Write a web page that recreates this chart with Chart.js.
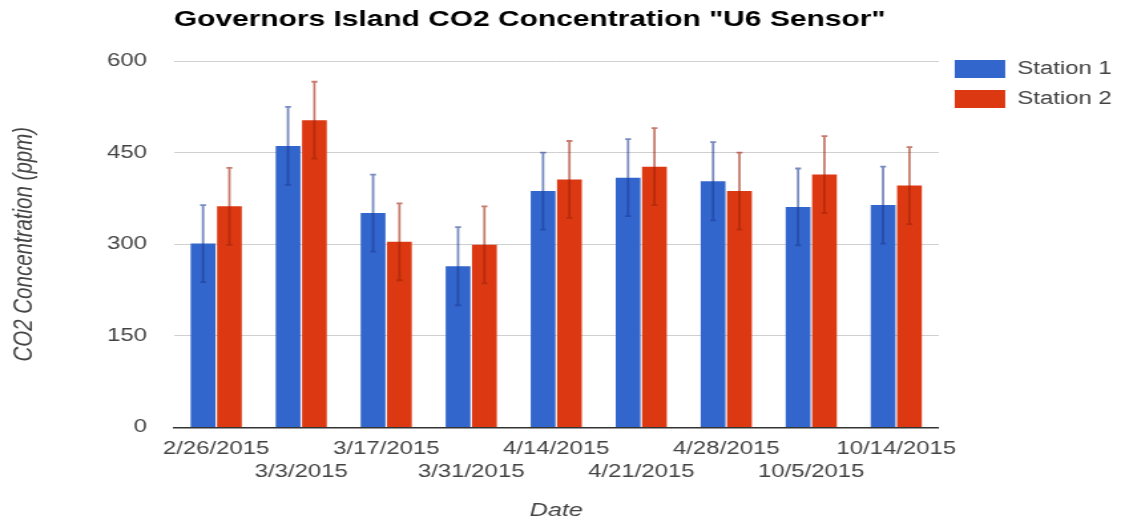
<!DOCTYPE html>
<html lang="en">
<head>
  <meta charset="UTF-8" />
  <title>Governors Island CO2 Concentration</title>
  <script src="https://cdn.jsdelivr.net/npm/chart.js"></script>
  <style>
    html, body { margin: 0; padding: 0; background: #fff; overflow: hidden; }
    /* the reference is stretched sideways, so draw narrow and widen it */
    #wrap { width: 846px; height: 522px; transform: scaleX(1.3298); transform-origin: 0 0; }
  </style>
</head>
<body>
  <div id="wrap"><canvas id="co2Chart"></canvas></div>

  <script>
  // Data
  const dates = ['2/26/2015', '3/3/2015', '3/17/2015', '3/31/2015', '4/14/2015',
                 '4/21/2015', '4/28/2015', '10/5/2015', '10/14/2015'];
  const station1 = [301, 461, 351, 264, 387, 409, 403, 361, 364];
  const station2 = [362, 503, 304, 299, 406, 427, 387, 414, 396];
  const station1Err = [63, 64, 63, 64, 63, 63, 64, 63, 63];
  const station2Err = [63, 63, 63, 63, 63, 63, 63, 63, 63];
  const yTicks = [0, 150, 300, 450, 600];

  // Alternate labels between two rows like the original
  const labels = dates.map((d, i) => i % 2 === 0 ? [d] : ['', d]);

  // Simple error bar plugin
  const errorBars = {
    id: 'errorBars',
    afterDatasetsDraw(chart) {
      const ctx = chart.ctx;
      const y = chart.scales.y;
      chart.data.datasets.forEach((ds, di) => {
        const meta = chart.getDatasetMeta(di);
        if (meta.hidden) return;
        meta.data.forEach((bar, i) => {
          const v = ds.data[i], e = ds.errors[i];
          const top = y.getPixelForValue(v + e);
          const bot = y.getPixelForValue(v - e);
          ctx.save();
          ctx.strokeStyle = ds.errorColor;
          ctx.lineWidth = 1.8;
          ctx.beginPath();
          ctx.moveTo(bar.x, top);
          ctx.lineTo(bar.x, bot);
          ctx.moveTo(bar.x - 2.2, top);
          ctx.lineTo(bar.x + 2.2, top);
          ctx.moveTo(bar.x - 2.2, bot);
          ctx.lineTo(bar.x + 2.2, bot);
          ctx.stroke();
          ctx.restore();
        });
      });
    }
  };

  const font = 'Arial, "Liberation Sans"';

  const ctx = document.getElementById('co2Chart').getContext('2d');
  new Chart(ctx, {
    type: 'bar',
    data: {
      labels: labels,
      datasets: [
        {
          label: 'Station 1',
          data: station1,
          errors: station1Err,
          errorColor: 'rgba(30, 60, 150, 0.6)',
          backgroundColor: '#3366cc',
          borderWidth: 0,
          barPercentage: 0.94,
          categoryPercentage: 0.62
        },
        {
          label: 'Station 2',
          data: station2,
          errors: station2Err,
          errorColor: 'rgba(160, 35, 10, 0.6)',
          backgroundColor: '#dc3912',
          borderWidth: 0,
          barPercentage: 0.94,
          categoryPercentage: 0.62
        }
      ]
    },
    options: {
      responsive: true,
      maintainAspectRatio: false,
      animation: false,
      layout: { padding: { left: 4, right: 0, top: 6, bottom: 0 } },
      plugins: {
        title: {
          display: true,
          text: 'Governors Island CO2 Concentration "U6 Sensor"',
          align: 'start',
          fullSize: false,
          color: '#000',
          font: { family: font, size: 22.5, weight: 'bold' },
          padding: { top: 0, bottom: 28 }
        },
        legend: {
          position: 'right',
          align: 'start',
          // empty title only pushes the entries down below the chart title
          title: { display: true, text: ' ', font: { size: 10 }, padding: { top: 0, bottom: 30 } },
          labels: {
            boxWidth: 38,
            boxHeight: 18,
            padding: 12,
            color: '#444',
            font: { family: font, size: 18 }
          }
        },
        tooltip: { enabled: false }
      },
      scales: {
        x: {
          grid: { display: false },
          border: { color: '#333', width: 1.5 },
          ticks: {
            autoSkip: false,
            maxRotation: 0,
            padding: 2,
            color: '#444',
            font: { family: font, size: 18, lineHeight: 1.3 }
          },
          title: {
            display: true,
            text: 'Date',
            color: '#444',
            font: { family: font, size: 19, style: 'italic' },
            padding: { top: 13, bottom: 0 }
          }
        },
        y: {
          min: 0,
          max: 600,
          afterBuildTicks: scale => { scale.ticks = yTicks.map(v => ({ value: v })); },
          grid: {
            color: c => c.tick && c.tick.value === 0 ? '#333' : '#d0d0d0',
            drawTicks: false
          },
          border: { display: false },
          ticks: {
            padding: 20,
            color: '#444',
            font: { family: font, size: 18 }
          },
          title: {
            display: true,
            text: 'CO2 Concentration (ppm)',
            color: '#444',
            font: { family: font, size: 20.5, style: 'italic' },
            padding: { top: 2, bottom: 30 }
          }
        }
      }
    },
    plugins: [errorBars]
  });
  </script>
</body>
</html>
